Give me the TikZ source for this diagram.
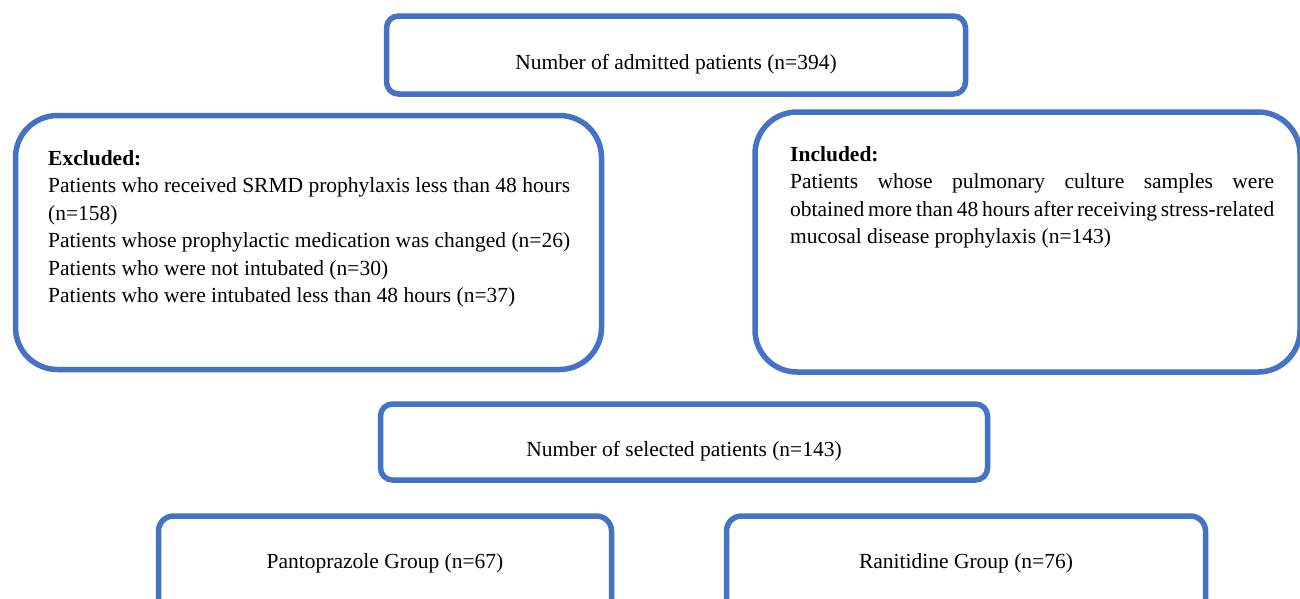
\documentclass[tikz,border=0pt]{standalone}
\usepackage{fontspec}
\setmainfont{Liberation Serif}
\definecolor{boxblue}{HTML}{4472C4}

\begin{document}
\begin{tikzpicture}[x=1pt, y=-1pt,
  box/.style={draw=boxblue, line width=5.5pt, rounded corners=#1, inner sep=0pt},
  box/.default=12pt,
  txt/.style={inner sep=0pt, font=\fontsize{21.5}{27.5}\selectfont}]
\useasboundingbox (0,0) rectangle (1300,598);
\node [box, minimum width=579, minimum height=78] (admitted) at (676,55) {};
\node [txt, anchor=base] (admittedtxt) at (676,69) {Number of admitted patients (n=394)};
\node [box=42pt, minimum width=586, minimum height=254] (excluded) at (308.5,242.5) {};
\node [txt, anchor=north west, text width=560, align=flush left] (excludedtxt) at (48,150)
  {\textbf{Excluded:}\\
   Patients who received SRMD prophylaxis less than 48 hours\\
   (n=158)\\
   Patients whose prophylactic medication was changed (n=26)\\
   Patients who were not intubated (n=30)\\
   Patients who were intubated less than 48 hours (n=37)};
\node [box=42pt, minimum width=545, minimum height=260] (included) at (1027.5,242) {};
\node [txt, anchor=north west, text width=484, align=justify] (includedtxt) at (790,146)
  {\textbf{Included:}\newline
   Patients whose pulmonary culture samples were\linebreak
   obtained more than 48 hours after receiving stress-related\linebreak
   mucosal disease prophylaxis (n=143)};
\node [box, minimum width=607, minimum height=76] (selected) at (684,442) {};
\node [txt, anchor=base] (selectedtxt) at (684,456) {Number of selected patients (n=143)};
\node [box=15pt, minimum width=453, minimum height=100] (panto) at (385,566) {};
\node [txt, anchor=base] (pantotxt) at (385,568) {Pantoprazole Group (n=67)};
\node [box=15pt, minimum width=479, minimum height=100] (raniti) at (966,566) {};
\node [txt, anchor=base] (ranititxt) at (966,568) {Ranitidine Group (n=76)};
\end{tikzpicture}
\end{document}
